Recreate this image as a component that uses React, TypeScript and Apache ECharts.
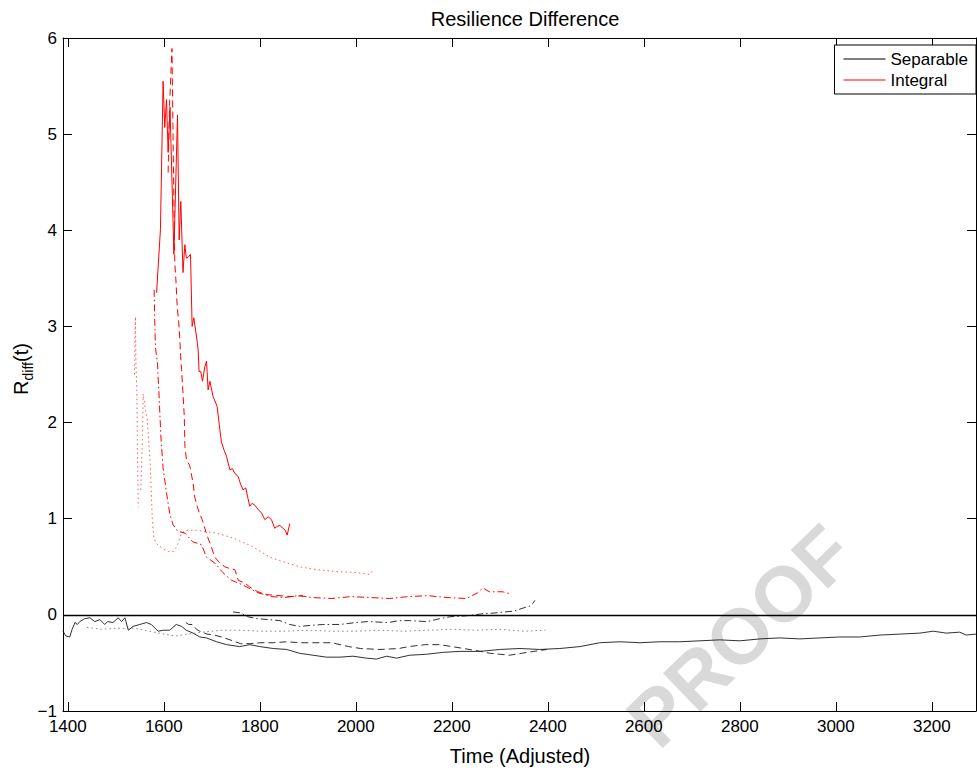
import React, { useEffect, useRef } from "react";
import * as echarts from "echarts";

const FONT = "Liberation Sans, Arial, Helvetica, sans-serif";

const xTicks = [1400, 1600, 1800, 2000, 2200, 2400, 2600, 2800, 3000, 3200];
const yTicks = [-1, 0, 1, 2, 3, 4, 5, 6];

// Integral (red)
const intSolid = [
  [1585, 3.35], [1593, 4.01], [1598.5, 5.55], [1602, 5.07], [1605.6, 5.36], [1609, 4.81], [1613, 5.28],
  [1621, 3.75], [1628.5, 5.2], [1632, 3.9], [1635.4, 4.3], [1640, 3.56], [1643.8, 3.85], [1647, 3.71],
  [1651, 3.72], [1655.6, 3.75], [1659, 3.0], [1662.5, 3.09], [1668, 2.9], [1671.5, 2.76], [1673.5, 2.53],
  [1677, 2.53], [1680.6, 2.43], [1685.4, 2.58], [1689, 2.64], [1692.3, 2.34], [1696, 2.43], [1702.7, 2.27],
  [1711, 2.17], [1716.7, 1.93], [1720, 1.8], [1725, 1.72], [1730.6, 1.65], [1737.5, 1.51], [1743, 1.52],
  [1748, 1.47], [1754.8, 1.44], [1760, 1.36], [1765, 1.3], [1770.8, 1.32], [1775, 1.22], [1779, 1.13],
  [1784, 1.16], [1789.6, 1.14], [1796, 1.1], [1803.5, 1.06], [1810.4, 0.99], [1817.3, 1.02], [1824.4, 0.99],
  [1831, 0.9], [1836, 0.92], [1841.7, 0.93], [1848.5, 0.9], [1853, 0.88], [1857, 0.83], [1862.5, 0.95],
];
const intDashed = [
  [1609, 4.6], [1612, 5.3], [1617, 5.89], [1619, 5.1], [1621, 4.3], [1623, 3.65], [1625, 3.5], [1628, 3.2],
  [1631, 3.05], [1633, 2.9], [1635, 2.7], [1637, 2.55], [1640, 2.3], [1642.7, 2.06], [1644, 1.75], [1647, 1.62],
  [1654, 1.55], [1661, 1.37], [1664.6, 1.22], [1670, 1.12], [1675, 1.05], [1680, 0.99], [1685.4, 0.9],
  [1692, 0.8], [1699, 0.71], [1706, 0.6], [1716.7, 0.54], [1727, 0.5], [1738, 0.48], [1748, 0.47],
  [1755, 0.36], [1769, 0.33], [1779, 0.29], [1796, 0.24], [1815, 0.21], [1840, 0.2], [1865, 0.19], [1890, 0.2],
];
const intDashDot = [
  [1579.8, 3.38], [1581, 3.09], [1582, 2.89], [1583, 2.76], [1587, 2.62], [1588, 2.48], [1589.6, 2.34],
  [1591.7, 2.1], [1594, 1.85], [1598.5, 1.53], [1605.6, 1.27], [1612.5, 1.05], [1619, 0.94], [1629, 0.87],
  [1644, 0.85], [1660, 0.76], [1678.5, 0.73], [1689, 0.6], [1706, 0.54], [1723, 0.44], [1741, 0.36],
  [1765, 0.31], [1796, 0.23], [1825, 0.19], [1850, 0.18], [1880, 0.2], [1910, 0.18], [1950, 0.17],
  [1990, 0.19], [2030, 0.18], [2070, 0.17], [2110, 0.19], [2150, 0.2], [2190, 0.18], [2230, 0.17],
  [2254, 0.23], [2265, 0.28], [2278, 0.24], [2294, 0.24], [2306, 0.24], [2321, 0.22],
];
const intDottedA = [
  [1539, 2.5], [1540, 2.9], [1541, 3.1], [1542, 2.6], [1543, 2.45], [1544, 2.3], [1545, 1.7], [1546, 1.4], [1547, 1.12],
];
const intDottedB = [
  [1552, 1.3], [1555, 1.75], [1557, 2.3], [1560, 2.2], [1563, 2.1], [1565, 2.05], [1568, 1.85], [1572, 1.55],
  [1574, 1.27], [1576, 1.0], [1579, 0.81], [1583, 0.75], [1590, 0.72], [1600, 0.68], [1610, 0.66], [1620, 0.66],
  [1628, 0.72], [1636, 0.84], [1645, 0.88], [1668, 0.88], [1710, 0.85], [1744, 0.8], [1785, 0.71], [1821, 0.6],
  [1856, 0.54], [1883, 0.5], [1918, 0.47], [1960, 0.45], [2001, 0.44], [2029, 0.42], [2035, 0.46],
];

// Separable (black)
const sepSolid = [
  [1390, -0.17], [1396, -0.22], [1404, -0.23], [1409, -0.15], [1415, -0.08], [1420, -0.1], [1425, -0.07],
  [1435, -0.04], [1446, -0.03], [1456, -0.07], [1467, -0.05], [1477, -0.1], [1483, -0.07], [1494, -0.08],
  [1505, -0.03], [1512, -0.07], [1519, -0.03], [1526, -0.16], [1536, -0.12], [1550, -0.1], [1564, -0.08],
  [1574, -0.1], [1588, -0.17], [1599, -0.16], [1612, -0.16], [1626, -0.1], [1637, -0.12], [1647, -0.16],
  [1661, -0.19], [1675, -0.23], [1689, -0.24], [1710, -0.28], [1731, -0.31], [1758, -0.33], [1779, -0.31],
  [1800, -0.33], [1828, -0.35], [1856, -0.36], [1883, -0.4], [1911, -0.42], [1939, -0.44], [1967, -0.44],
  [1994, -0.43], [2022, -0.45], [2043, -0.46], [2064, -0.43], [2085, -0.45], [2112, -0.42], [2147, -0.41],
  [2182, -0.39], [2217, -0.38], [2258, -0.38], [2300, -0.36], [2342, -0.35], [2383, -0.36], [2425, -0.35],
  [2467, -0.33], [2508, -0.29], [2550, -0.28], [2592, -0.29], [2633, -0.28], [2675, -0.28], [2717, -0.27],
  [2758, -0.26], [2800, -0.27], [2842, -0.25], [2883, -0.24], [2925, -0.25], [2967, -0.24], [3008, -0.23],
  [3050, -0.23], [3092, -0.21], [3133, -0.2], [3175, -0.19], [3203, -0.17], [3230, -0.19], [3258, -0.18],
  [3272, -0.21], [3292, -0.2],
];
const sepDashed = [
  [1646, -0.08], [1652, -0.1], [1660, -0.1], [1668, -0.15], [1675, -0.17], [1690, -0.2], [1705, -0.21],
  [1720, -0.23], [1744, -0.27], [1760, -0.3], [1780, -0.3], [1800, -0.29], [1828, -0.29], [1856, -0.28],
  [1885, -0.29], [1910, -0.29], [1950, -0.29], [1985, -0.33], [2010, -0.35], [2050, -0.36], [2090, -0.35],
  [2110, -0.33], [2145, -0.31], [2175, -0.31], [2200, -0.33], [2225, -0.35], [2260, -0.38], [2280, -0.4],
  [2300, -0.41], [2320, -0.42], [2345, -0.4], [2370, -0.38], [2385, -0.37], [2398, -0.36],
];
const sepDashDot = [
  [1744, 0.03], [1760, 0.02], [1775, -0.02], [1796, -0.04], [1820, -0.05], [1842, -0.06], [1862, -0.1],
  [1883, -0.12], [1905, -0.11], [1931, -0.1], [1967, -0.1], [2000, -0.08], [2025, -0.07], [2067, -0.08],
  [2090, -0.06], [2112, -0.06], [2148, -0.07], [2175, -0.04], [2196, -0.02], [2230, -0.01], [2262, 0.01],
  [2290, 0.02], [2310, 0.03], [2330, 0.04], [2348, 0.07], [2362, 0.09], [2369, 0.12], [2373, 0.15],
];
const sepDotted = [
  [1440, -0.13], [1470, -0.15], [1500, -0.14], [1540, -0.14], [1570, -0.17], [1600, -0.2], [1625, -0.22],
  [1650, -0.2], [1680, -0.18], [1720, -0.16], [1760, -0.16], [1800, -0.17], [1850, -0.17], [1900, -0.16],
  [1950, -0.17], [2000, -0.17], [2050, -0.16], [2100, -0.17], [2150, -0.16], [2200, -0.15], [2250, -0.16],
  [2300, -0.15], [2350, -0.17], [2395, -0.16],
];

const RED = "#ff0000";
const BLACK = "#1a1a1a";
const DASH = [7, 4];
const DASHDOT = [7, 3, 1.5, 3];
const DOT = [1.5, 3];

function line(name: string, data: number[][], color: string, type: any, width = 1, opacity = 1) {
  return {
    type: "line",
    name,
    data,
    symbol: "none",
    showSymbol: false,
    silent: true,
    z: 3,
    lineStyle: { color, width, type, opacity },
    itemStyle: { color },
  };
}

export default function App() {
  const ref = useRef<HTMLDivElement>(null);
  useEffect(() => {
    if (!ref.current) return;
    const chart = echarts.init(ref.current, undefined, { renderer: "svg" });
    const axisCommon = {
      axisLine: { show: true, onZero: false, lineStyle: { color: "#000", width: 1 } },
      splitLine: { show: false },
    };
    chart.setOption({
      animation: false,
      backgroundColor: "#fff",
      textStyle: { fontFamily: FONT },
      title: {
        text: "Resilience Difference",
        left: 520,
        top: 4,
        textAlign: "center",
        textStyle: { fontSize: 20, fontWeight: "normal", color: "#000", fontFamily: FONT },
      },
      grid: { left: 63, right: 1, top: 38, bottom: 60 },
      legend: {
        data: ["Separable", "Integral"],
        orient: "vertical",
        right: 1,
        top: 45,
        icon: "rect",
        itemWidth: 42,
        itemHeight: 1,
        itemGap: 3,
        padding: [5, 8, 5, 9],
        borderColor: "#000",
        borderWidth: 1,
        borderRadius: 0,
        backgroundColor: "#fff",
        selectedMode: false,
        textStyle: { fontSize: 17, color: "#000", fontFamily: FONT, lineHeight: 18 },
      },
      xAxis: [
        {
          type: "value",
          min: 1390,
          max: 3292,
          position: "bottom",
          ...axisCommon,
          axisTick: { show: true, inside: true, length: 9, customValues: xTicks, lineStyle: { color: "#000" } },
          axisLabel: {
            customValues: xTicks,
            fontSize: 17,
            color: "#000",
            margin: 7,
            fontFamily: FONT,
            formatter: (v: number) => String(v),
          },
        },
        {
          type: "value",
          min: 1390,
          max: 3292,
          position: "top",
          ...axisCommon,
          axisTick: { show: true, inside: true, length: 9, customValues: xTicks, lineStyle: { color: "#000" } },
          axisLabel: { show: false },
        },
      ],
      yAxis: [
        {
          type: "value",
          min: -1,
          max: 6,
          interval: 1,
          position: "left",
          ...axisCommon,
          axisTick: { show: true, inside: true, length: 9, customValues: yTicks, lineStyle: { color: "#000" } },
          axisLabel: {
            customValues: yTicks,
            fontSize: 17,
            color: "#000",
            margin: 6,
            fontFamily: FONT,
            formatter: (v: number) => String(v).replace("-", "\u2212"),
          },
        },
        {
          type: "value",
          min: -1,
          max: 6,
          interval: 1,
          position: "right",
          ...axisCommon,
          axisTick: { show: true, inside: true, length: 9, customValues: yTicks, lineStyle: { color: "#000" } },
          axisLabel: { show: false },
        },
      ],
      graphic: [
        {
          type: "text",
          x: 740,
          y: 636,
          rotation: 0.768,
          z: -10,
          silent: true,
          style: {
            text: "PROOF",
            align: "center",
            verticalAlign: "middle",
            fill: "#d9d9d9",
            fontSize: 78,
            fontWeight: "bold",
            fontFamily: FONT,
          },
        },
        {
          type: "text",
          x: 520,
          y: 756,
          silent: true,
          style: {
            text: "Time (Adjusted)",
            align: "center",
            verticalAlign: "middle",
            fill: "#000",
            fontSize: 20,
            fontFamily: FONT,
          },
        },
        {
          type: "text",
          x: 21,
          y: 369,
          rotation: Math.PI / 2,
          silent: true,
          style: {
            text: "{r|R}{s|diff}{r|(t)}",
            align: "center",
            verticalAlign: "middle",
            fill: "#000",
            fontFamily: FONT,
            rich: {
              r: { fontSize: 20, lineHeight: 28, fontFamily: FONT, fill: "#000", verticalAlign: "middle" },
              s: { fontSize: 14, lineHeight: 28, fontFamily: FONT, fill: "#000", verticalAlign: "bottom" },
            },
          },
        },
      ],
      series: [
        {
          type: "line",
          name: "Separable",
          data: [],
          symbol: "none",
          lineStyle: { color: "#000", width: 1 },
          itemStyle: { color: "#000" },
          markLine: {
            silent: true,
            symbol: "none",
            label: { show: false },
            lineStyle: { color: "#000", width: 1.4, type: "solid" },
            data: [{ yAxis: 0 }],
          },
        },
        {
          type: "line",
          name: "Integral",
          data: [],
          symbol: "none",
          lineStyle: { color: RED, width: 1 },
          itemStyle: { color: RED },
        },
        line("Separable solid", sepSolid, BLACK, "solid", 0.9),
        line("Separable dashed", sepDashed, BLACK, DASH, 0.9),
        line("Separable dash-dot", sepDashDot, BLACK, DASHDOT, 0.9),
        line("Separable dotted", sepDotted, "#777", DOT, 0.9),
        line("Integral solid", intSolid, RED, "solid"),
        line("Integral dashed", intDashed, RED, DASH),
        line("Integral dash-dot", intDashDot, RED, DASHDOT),
        line("Integral dotted A", intDottedA, RED, DOT, 1, 0.65),
        line("Integral dotted B", intDottedB, RED, DOT, 1, 0.65),
      ],
    });
    return () => chart.dispose();
  }, []);
  return (
    <div
      ref={ref}
      style={{ position: "fixed", left: 0, top: 0, width: 977, height: 771, background: "#fff" }}
    />
  );
}
